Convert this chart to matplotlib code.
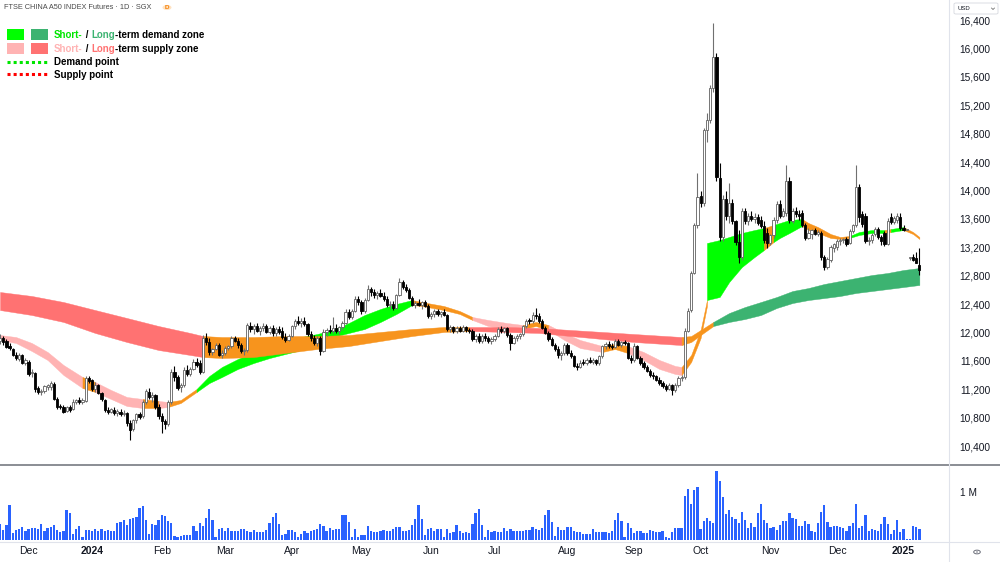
import numpy as np
import pandas as pd
import matplotlib
matplotlib.use("Agg")
import matplotlib.pyplot as plt
from matplotlib.patches import Rectangle, Circle, FancyBboxPatch
from matplotlib.lines import Line2D
import matplotlib.transforms as mtransforms

FONT = "Liberation Sans"
plt.rcParams["font.family"] = [FONT, "DejaVu Sans"]

# ---------------- data ----------------
holidays = ["2023-12-25", "2024-01-01", "2024-02-12", "2024-05-01",
            "2024-08-09", "2024-10-31", "2024-12-25", "2025-01-01"]
dates = pd.bdate_range("2023-11-20", "2025-01-09")
dates = dates[~dates.isin(pd.to_datetime(holidays))]

opens = [11900,11930,11890,11820,11780,11700,11640,11690,11590,11600,
         11440,11440,11230,11170,11190,11250,11240,11290,11080,10970,
         10960,10910,10970,10930,11040,11060,11030,11050,11370,11340,
         11210,11270,11160,11060,10920,10900,10920,10880,10890,10870,
         10880,10740,10650,10780,10860,10830,11040,11180,11110,11130,
         10960,10830,10760,10730,11030,11450,11380,11240,11270,11480,
         11430,11500,11600,11580,11460,11930,11880,11740,11780,11830,
         11700,11730,11790,11820,11930,11900,11830,11750,11760,12110,
         12060,12100,12040,12070,12110,12020,12080,12000,12060,12030,
         11950,11910,11970,12100,12180,12140,12180,12130,11990,11940,
         11870,11940,11750,12020,12050,12030,12080,12040,12090,12150,
         12300,12230,12320,12480,12440,12310,12470,12620,12580,12540,
         12570,12530,12480,12400,12420,12360,12540,12720,12650,12610,
         12500,12400,12430,12400,12440,12390,12250,12280,12310,12270,
         12300,12260,12060,12090,12030,12070,12040,12090,12050,12030,
         11920,11960,11900,11960,11930,11890,11920,11970,12060,12030,
         12070,11980,11870,11940,11960,11990,12100,12180,12170,12260,
         12240,12180,12080,12010,11920,11840,11780,11690,11720,11840,
         11730,11680,11540,11530,11590,11580,11630,11600,11620,11580,
         11680,11820,11850,11820,11810,11890,11840,11880,11860,11660,
         11620,11820,11660,11580,11530,11470,11410,11400,11350,11300,
         11260,11220,11270,11200,11280,11370,11380,12040,12330,12850,
         13520,13930,13840,14860,15000,15450,15890,14190,13360,13900,
         13650,13830,13580,13290,13070,13720,13580,13660,13610,13640,
         13600,13510,13420,13280,13380,13600,13820,13660,13700,14150,
         13580,13720,13680,13700,13530,13350,13400,13450,13400,13420,
         13070,12940,13040,13200,13220,13300,13310,13330,13280,13440,
         13520,14060,13680,13660,13300,13320,13400,13470,13360,13420,
         13260,13640,13570,13600,13640,13490,13460,13060,13080,13060,
         12960]
highs = [11990,11960,11920,11870,11800,11740,11720,11710,11660,11620,
         11500,11460,11260,11220,11280,11290,11330,11310,11100,11000,
         10990,10980,10990,11070,11080,11100,11090,11400,11400,11360,
         11310,11290,11180,11080,10960,10950,10960,10930,10940,10920,
         10900,10780,10800,10880,10900,11060,11220,11230,11170,11150,
         11000,10880,10800,11060,11500,11540,11420,11300,11520,11550,
         11520,11640,11650,11620,11980,12000,11930,11800,11870,11870,
         11760,11820,11840,11960,11970,11940,11860,11790,12150,12160,
         12130,12150,12100,12140,12130,12100,12120,12090,12100,12090,
         12000,11990,12120,12200,12250,12210,12230,12150,12030,11980,
         11960,11960,12060,12080,12120,12230,12130,12110,12180,12340,
         12340,12350,12520,12530,12470,12500,12680,12650,12620,12600,
         12620,12590,12520,12460,12450,12560,12780,12750,12700,12640,
         12530,12460,12480,12460,12470,12420,12300,12340,12350,12320,
         12340,12280,12120,12110,12100,12110,12120,12110,12080,12060,
         11990,12000,11990,12010,11960,11950,11990,12090,12110,12090,
         12090,12000,11960,11990,12010,12120,12200,12220,12300,12360,
         12290,12200,12110,12030,11950,11870,11820,11750,11870,11870,
         11760,11700,11580,11620,11640,11660,11670,11650,11640,11700,
         11840,11880,11900,11860,11920,11920,11900,11910,11880,11690,
         11860,11830,11680,11610,11560,11500,11450,11420,11380,11330,
         11290,11300,11290,11300,11400,11420,12080,12360,12880,13560,
         14260,14000,14900,15100,15500,16370,15950,14400,13950,14000,
         14120,13900,13600,13460,13760,13770,13700,13720,13690,13680,
         13660,13580,13480,13400,13640,13860,13880,13760,14370,14200,
         13760,13780,13740,13740,13560,13480,13470,13480,13460,13440,
         13100,13080,13240,13280,13330,13350,13350,13360,13470,13540,
         14370,14100,13720,13700,13360,13420,13500,13500,13380,13440,
         13620,13700,13660,13700,13690,13520,13470,13080,13120,13150,
         13200]
lows = [11850,11840,11790,11760,11680,11620,11610,11570,11560,11400,
        11390,11180,11140,11130,11160,11200,11200,11060,10930,10930,
        10880,10890,10890,10920,11000,11010,11010,11030,11300,11190,
        11180,11140,11050,10890,10870,10880,10850,10840,10830,10840,
        10700,10500,10620,10740,10790,10810,11010,11080,11040,10940,
        10800,10600,10660,10700,11000,11330,11200,11180,11250,11400,
        11400,11480,11520,11430,11440,11830,11700,11690,11760,11680,
        11650,11700,11760,11790,11880,11800,11720,11700,11740,12020,
        11990,12020,11980,12030,12000,11990,11970,11960,11990,11920,
        11880,11900,11950,12060,12120,12090,12100,11960,11900,11840,
        11820,11700,11740,11960,12000,12000,12010,11990,12050,12130,
        12200,12200,12300,12400,12280,12290,12450,12530,12500,12480,
        12510,12450,12370,12350,12330,12340,12520,12620,12580,12480,
        12380,12360,12380,12350,12370,12220,12200,12230,12240,12230,
        12240,12030,12020,12010,12000,12020,12020,12020,12000,11900,
        11880,11870,11870,11900,11860,11850,11890,11950,12000,12000,
        11950,11770,11850,11900,11920,11970,12080,12130,12150,12200,
        12150,12060,11990,11900,11820,11750,11660,11630,11700,11700,
        11650,11520,11480,11510,11550,11560,11580,11570,11560,11560,
        11660,11780,11800,11780,11790,11820,11810,11830,11640,11590,
        11600,11640,11560,11500,11450,11390,11360,11330,11280,11230,
        11190,11200,11130,11180,11240,11330,11360,12020,12300,12830,
        13480,13780,13800,14700,14960,15400,14150,13300,13300,13600,
        13560,13540,13250,12990,13040,13540,13530,13580,13560,13520,
        13480,13280,13200,13240,13340,13560,13620,13640,13660,13560,
        13560,13640,13600,13500,13320,13330,13330,13380,13370,13040,
        12890,12910,13000,13150,13180,13250,13270,13230,13260,13420,
        13500,13570,13500,13270,13240,13280,13370,13330,13250,13230,
        13240,13540,13540,13560,13460,13440,13450,13040,13020,12990,
        12820]
closes = [11930,11880,11810,11790,11700,11650,11700,11590,11620,11430,
          11460,11220,11170,11190,11260,11270,11300,11080,10960,10960,
          10900,10960,10920,11040,11050,11030,11060,11370,11330,11210,
          11280,11160,11070,10920,10890,10930,10880,10900,10860,10880,
          10740,10640,10780,10860,10820,11040,11190,11110,11130,10960,
          10830,10760,10720,11030,11460,11380,11230,11270,11480,11430,
          11500,11600,11560,11460,11940,11880,11740,11780,11840,11700,
          11730,11790,11820,11930,11900,11830,11750,11760,12120,12060,
          12100,12040,12070,12110,12020,12080,12000,12060,12020,11950,
          11910,11970,12100,12180,12140,12180,12130,11990,11930,11870,
          11940,11750,12020,12050,12030,12080,12040,12090,12150,12300,
          12230,12320,12480,12440,12310,12470,12620,12580,12540,12570,
          12530,12480,12400,12420,12360,12540,12720,12650,12610,12500,
          12400,12430,12400,12440,12390,12250,12280,12310,12270,12300,
          12260,12060,12090,12030,12070,12040,12090,12050,12030,11920,
          11960,11900,11960,11930,11890,11920,11970,12060,12030,12070,
          11980,11870,11940,11960,11990,12100,12180,12170,12260,12240,
          12180,12080,12010,11920,11840,11780,11690,11720,11840,11730,
          11680,11540,11530,11590,11580,11630,11600,11620,11580,11680,
          11820,11850,11820,11810,11890,11840,11880,11860,11660,11620,
          11820,11660,11580,11530,11470,11410,11400,11350,11300,11260,
          11220,11270,11200,11280,11370,11390,12040,12320,12850,13520,
          13920,13840,14860,15000,15450,15890,14200,13360,13900,13650,
          13830,13580,13290,13070,13720,13580,13660,13610,13640,13560,
          13510,13320,13280,13380,13600,13820,13660,13720,14150,13600,
          13720,13680,13650,13530,13350,13420,13450,13400,13430,13070,
          12940,13050,13210,13260,13300,13310,13330,13260,13440,13520,
          14060,13640,13540,13300,13320,13380,13470,13360,13300,13260,
          13590,13570,13630,13650,13490,13460,13460,13060,13040,12990,
          12890]
volume_k = [333,208,313,750,139,208,243,278,194,243,
            257,257,229,347,194,257,278,326,208,174,
            201,639,569,125,229,299,69,208,208,194,
            229,188,243,201,208,194,201,368,382,417,
            313,451,472,500,674,715,417,125,333,326,
            431,535,507,396,368,83,56,83,104,104,
            97,299,188,368,299,472,660,417,69,229,
            257,188,257,201,201,181,236,236,188,167,
            222,174,174,160,208,361,500,576,347,97,
            132,215,215,167,63,118,201,153,194,208,
            229,347,292,201,250,222,229,229,535,542,
            389,56,236,69,111,104,292,201,167,167,
            201,215,188,181,243,278,271,188,181,208,
            326,438,736,451,104,243,264,188,243,243,
            69,243,153,160,326,201,153,167,153,347,
            576,660,326,56,215,174,201,174,174,264,
            194,236,188,188,181,188,208,215,285,236,
            222,250,542,646,375,83,271,208,208,285,
            285,201,174,174,132,125,125,236,167,167,
            167,174,153,201,431,576,396,56,361,257,
            153,188,181,139,146,215,188,174,174,188,
            69,49,167,257,257,257,944,1076,757,1056,
            1118,229,396,465,396,368,1472,1250,917,556,
            632,486,451,361,597,424,264,368,285,576,
            757,431,361,264,278,208,326,410,403,576,
            465,438,299,299,410,347,188,174,361,597,
            736,389,271,299,306,285,257,201,299,354,
            757,257,299,535,201,236,215,188,347,493,
            340,132,208,424,160,236,28,14,299,271,
            229]

# short-term zone (edges) and its state: s=supply, d=demand, n=neutral
st_idx = [0,5,10,15,20,26,30,35,40,45,50,53,57,62,66,70,75,80,85,90,
          95,100,105,110,115,120,125,130,133,140,145,149,154,160,165,169,173,178,183,190,
          194,198,203,208,213,215,218,221,223,223,227,230,234,238,241,244,246,249,253,255,
          258,262,265,268,271,275,279,281,285,288,290]
st_hi = [11977,11949,11865,11738,11555,11386,11315,11203,11104,11076,
         11048,11034,11062,11217,11400,11527,11639,11738,11822,11893,
         11949,11991,12048,12146,12259,12344,12414,12470,12442,12386,
         12315,12231,12189,12146,12118,12161,12118,12006,11907,11822,
         11850,11822,11738,11625,11541,11527,11696,12048,12470,13273,
         13315,13358,13414,13456,13484,13527,13555,13597,13611,13555,
         13498,13400,13358,13372,13428,13456,13456,13470,13498,13428,
         13358]
st_lo = [11907,11865,11752,11625,11414,11231,11175,11076,10977,10949,
         10949,10963,11020,11175,11301,11386,11499,11583,11653,11710,
         11766,11836,11949,12006,12062,12161,12273,12400,12386,12329,
         12273,12189,12104,12062,12062,12104,12048,11907,11794,11738,
         11780,11724,11625,11499,11428,11414,11597,11935,12386,12470,
         12513,12724,12935,13076,13175,13287,13344,13414,13513,13456,
         13414,13344,13330,13344,13386,13414,13414,13428,13456,13400,
         13330]
st_state = ("sssssnsssn" "snnddddddd" "dddddddnnn" "nsssnnsssn" "nssssnnnnd"
            "ddddndddnn" "nnndddndnn" "n")

# long-term zone
lt_idx = [0,10,20,30,40,50,60,64,70,80,90,100,110,120,130,140,148,160,170,180,
          190,200,210,215,218,221,225,230,235,240,245,250,255,260,265,270,275,280,285,290]
lt_hi = [12583,12527,12442,12329,12217,12104,12006,11963,11949,11949,
         11963,11963,11977,12020,12062,12090,12090,12090,12076,12048,
         12020,11991,11963,11949,11963,12048,12161,12287,12372,12442,
         12513,12597,12639,12696,12738,12780,12822,12851,12893,12921]
lt_lo = [12329,12259,12161,12006,11879,11766,11696,11667,11653,11667,
         11724,11780,11822,11893,11963,12020,12034,12020,12006,11963,
         11921,11879,11850,11836,11879,11977,12104,12161,12203,12259,
         12358,12428,12470,12498,12527,12569,12597,12625,12653,12682]
lt_state = "sssssss" + "nnnnnnnnn" + "sssssss" + "nnn" + "dddddddddddddd"

price_ticks = list(range(10400, 16401, 400))

# ---------------- styling ----------------
C_ST = {"d": "#00FF00", "s": "#FFB3B3", "n": "#F7941D"}
C_LT = {"d": "#3CB371", "s": "#FF7272", "n": "#F7941D"}
TXT = "#131722"

W, H = 1000, 562
fig = plt.figure(figsize=(W / 100, H / 100), dpi=100)
fig.patch.set_facecolor("white")


def fx(px):
    return px / W


def fy(py):
    return 1 - py / H


PX_BAR = 3.17
x_left = -0.02
x_right = x_left + 948 / PX_BAR

ax = fig.add_axes([0, fy(465), fx(948), 465 / H])
axv = fig.add_axes([0, fy(541), fx(948), 76 / H])
for a in (ax, axv):
    a.set_xlim(x_left, x_right)
    for s in a.spines.values():
        s.set_visible(False)
    a.set_xticks([])
    a.set_yticks([])
    a.patch.set_alpha(0)

ppx = 6000 / 426.0
ax.set_ylim(16400 - 444 * ppx, 16400 + 21 * ppx)
vpx = 1e6 / 47.0
axv.set_ylim(-1 * vpx, 75 * vpx)

n = len(dates)
xs = np.arange(n)
O = np.array(opens, float)
Hh = np.array(highs, float)
L = np.array(lows, float)
C = np.array(closes, float)
V = np.array(volume_k, float) * 1000


def draw_band(a, idx, hi, lo, state, colors, z):
    idx = np.asarray(idx, float)
    hi = np.asarray(hi, float)
    lo = np.asarray(lo, float)
    m = 0
    N = len(idx)
    while m < N - 1:
        if idx[m] == idx[m + 1]:
            m += 1
            continue
        s = state[m]
        start = m
        while m + 1 < N - 1 and state[m + 1] == s and idx[m + 1] != idx[m + 2]:
            m += 1
        sl = slice(start, m + 2)
        a.fill_between(idx[sl], lo[sl], hi[sl], color=colors[s], lw=0.3,
                       edgecolor=colors[s], zorder=z)
        m += 1


draw_band(ax, st_idx, st_hi, st_lo, st_state, C_ST, 2)
draw_band(ax, lt_idx, lt_hi, lt_lo, lt_state, C_LT, 3)

# candles
up = C >= O
ax.vlines(xs[up], L[up], Hh[up], colors="#707070", lw=0.8, zorder=5)
ax.vlines(xs[~up], L[~up], Hh[~up], colors="#000000", lw=0.8, zorder=5)
bb = np.minimum(O, C)
bh = np.maximum(np.abs(C - O), 15)
ax.bar(xs[up], bh[up], bottom=bb[up], width=0.7, color="white",
       edgecolor="#606060", lw=0.6, zorder=6)
ax.bar(xs[~up], bh[~up], bottom=bb[~up], width=0.7, color="black",
       edgecolor="black", lw=0.6, zorder=6)

# volume
axv.bar(xs, V, width=0.72, color="#2962FF", lw=0, zorder=3)

# price labels
tr = mtransforms.blended_transform_factory(ax.transAxes, ax.transData)
for v in price_ticks:
    ax.text(975 / 948, v, f"{v:,}", transform=tr, ha="center", va="center",
            fontsize=7.3, color=TXT, clip_on=False)
trv = mtransforms.blended_transform_factory(axv.transAxes, axv.transData)
axv.text(968 / 948, 1e6, "1 M", transform=trv, ha="center", va="center",
         fontsize=7.3, color=TXT, clip_on=False)

# date labels
months = pd.Series(dates.month)
first = np.where(months.values != np.roll(months.values, 1))[0]
first = first[first > 0]
for i in first:
    d = dates[i]
    if d.month == 1:
        lab, fw = str(d.year), "bold"
    else:
        lab, fw = d.strftime("%b"), "normal"
    fig.text(fx(i * PX_BAR + 0.07), fy(551), lab, ha="center", va="center",
             fontsize=7.5, fontweight=fw, color=TXT)

# separators
fig.add_artist(Line2D([0, 1], [fy(465), fy(465)], color="#8a8d94", lw=1.4))
fig.add_artist(Line2D([0, 1], [fy(541.5), fy(541.5)], color="#e0e3eb", lw=0.8))
fig.add_artist(Line2D([fx(948.5), fx(948.5)], [0, 1], color="#e0e3eb", lw=0.8))

renderer = fig.canvas.get_renderer()


def fit_size(txt, target, weight="normal"):
    t = fig.text(0, 0, txt, fontsize=10, fontweight=weight)
    w = t.get_window_extent(renderer=renderer).width
    t.remove()
    return 10 * target / w


# header
hs = fit_size("FTSE CHINA A50 INDEX Futures · 1D · SGX", 148)
fig.text(fx(4), fy(7.5), "FTSE CHINA A50 INDEX Futures · 1D · SGX", fontsize=hs,
         color="#4a4a4a", va="center", ha="left")
fig.add_artist(Circle((fx(167), fy(7.5)), 4.5 / W, transform=fig.transFigure,
                      facecolor="#FFE3C2", edgecolor="none"))
fig.text(fx(167), fy(7.5), "D", fontsize=4.5, color="#F57C00", ha="center",
         va="center", fontweight="bold")

# USD box
fig.add_artist(FancyBboxPatch((fx(954), fy(14)), 44 / W, 11 / H,
                              boxstyle="round,pad=0,rounding_size=0.002",
                              transform=fig.transFigure, facecolor="white",
                              edgecolor="#d6d8de", lw=0.6))
fig.text(fx(958), fy(8.5), "USD", fontsize=4.3, color=TXT, va="center", ha="left")
fig.add_artist(Line2D([fx(991.5), fx(993), fx(994.5)], [fy(8), fy(9.5), fy(8)],
                      color="#555", lw=0.5))

# settings icon
fig.add_artist(Circle((fx(977), fy(552)), 3.3 / W, transform=fig.transFigure,
                      facecolor="none", edgecolor="#6a6d78", lw=0.7))
fig.add_artist(Circle((fx(977), fy(552)), 1.0 / W, transform=fig.transFigure,
                      facecolor="#6a6d78", edgecolor="none"))

# legend
ls = fit_size("Short- / Long-term demand zone", 150, "bold")


def rich(x0, y0, parts):
    x = x0
    for txt, col in parts:
        t = fig.text(fx(x), fy(y0), txt, color=col, fontsize=ls, fontweight="bold",
                     va="center", ha="left")
        x += t.get_window_extent(renderer=renderer).width


fig.add_artist(Rectangle((fx(7), fy(40)), 17 / W, 11 / H, transform=fig.transFigure,
                         facecolor=C_ST["d"], edgecolor="none"))
fig.add_artist(Rectangle((fx(31), fy(40)), 17 / W, 11 / H, transform=fig.transFigure,
                         facecolor=C_LT["d"], edgecolor="none"))
fig.add_artist(Rectangle((fx(7), fy(53.5)), 17 / W, 11 / H, transform=fig.transFigure,
                         facecolor=C_ST["s"], edgecolor="none"))
fig.add_artist(Rectangle((fx(31), fy(53.5)), 17 / W, 11 / H, transform=fig.transFigure,
                         facecolor=C_LT["s"], edgecolor="none"))
fig.add_artist(Line2D([fx(7), fx(48)], [fy(62), fy(62)], color="#00E600", lw=2.2,
                      linestyle=(0, (1, 1))))
fig.add_artist(Line2D([fx(7), fx(48)], [fy(74), fy(74)], color="#FF0000", lw=2.2,
                      linestyle=(0, (1, 1))))

rich(54, 35, [("Short-", "#00E600"), (" / ", "black"), ("Long", C_LT["d"]),
              ("-term demand zone", "black")])
rich(54, 48.5, [("Short-", C_ST["s"]), (" / ", "black"), ("Long", C_LT["s"]),
                ("-term supply zone", "black")])
rich(54, 62, [("Demand point", "black")])
rich(54, 74.5, [("Supply point", "black")])

fig.savefig("out.png", dpi=100, facecolor="white")
